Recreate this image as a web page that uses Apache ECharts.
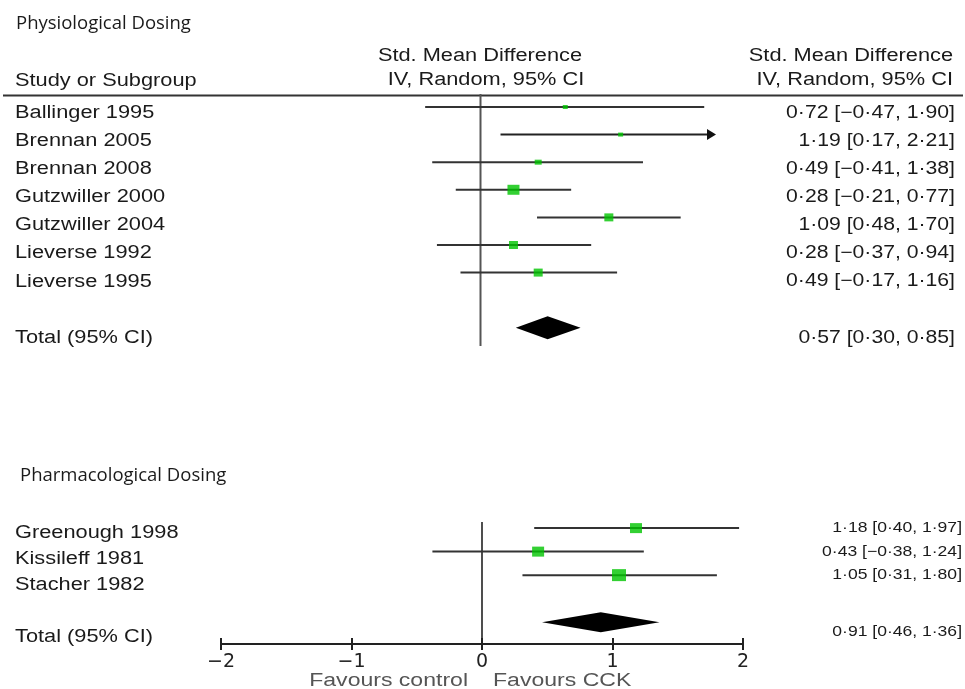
<!DOCTYPE html>
<html><head><meta charset="utf-8">
<script src="https://cdn.jsdelivr.net/npm/echarts@6/dist/echarts.min.js"></script>
<style>html,body{margin:0;padding:0;background:#fff}#c{width:965px;height:689px}</style>
</head><body><div id="c"></div>
<script>
// ---------------- data ----------------
const physStudies = ['Ballinger 1995','Brennan 2005','Brennan 2008','Gutzwiller 2000','Gutzwiller 2004','Lieverse 1992','Lieverse 1995'];
const physSMD   = [0.72, 1.19, 0.49, 0.28, 1.09, 0.28, 0.49];
const physLower = [-0.47, 0.17, -0.41, -0.21, 0.48, -0.37, -0.17];
const physUpper = [1.90, 2.21, 1.38, 0.77, 1.70, 0.94, 1.16];
const physTotal = [0.57, 0.30, 0.85];   // estimate, lower, upper

const pharmStudies = ['Greenough 1998','Kissileff 1981','Stacher 1982'];
const pharmSMD   = [1.18, 0.43, 1.05];
const pharmLower = [0.40, -0.38, 0.31];
const pharmUpper = [1.97, 1.24, 1.80];
const pharmTotal = [0.91, 0.46, 1.36];

const xTicks = [-2, -1, 0, 1, 2];
const totalLabel = 'Total (95% CI)';

// ---------------- styles ----------------
const GREEN = '#00c400';
const physBox  = [[5,4],[5,4],[7,5],[12,10],[9,8],[9,8],[9,8]];
const pharmBox = [[12,10],[12,10],[14,12]];
const ARIAL = 'Liberation Sans';
const SX = 1.21;

function fmt(v){ return v.toFixed(2).replace('.', '\u00b7').replace('-', '\u2212'); }
function ciText(e,l,u){ return fmt(e) + ' [' + fmt(l) + ', ' + fmt(u) + ']'; }

const xMin = xTicks[0], xMax = xTicks[xTicks.length-1];

function ciSeries(idx, lower, upper){
  return {
    type:'custom', xAxisIndex:idx, yAxisIndex:idx, clip:false, z:3,
    encode:{x:[0,1], y:2},
    data: lower.map((l,i)=>[l, upper[i], i]),
    renderItem(params, api){
      const lo = Math.max(api.value(0), xMin), hi = api.value(1), row = api.value(2);
      const p1 = api.coord([lo,row]), p2 = api.coord([Math.min(hi,xMax),row]);
      const ch = [];
      if (hi > xMax) {
        ch.push({type:'line', shape:{x1:p1[0],y1:p1[1],x2:p2[0]-6,y2:p2[1]}, style:{stroke:'#222', lineWidth:2}});
        ch.push({type:'polygon', shape:{points:[[p2[0],p2[1]],[p2[0]-9,p2[1]-5.5],[p2[0]-9,p2[1]+5.5]]}, style:{fill:'#111'}});
      } else {
        ch.push({type:'line', shape:{x1:p1[0],y1:p1[1],x2:p2[0],y2:p2[1]}, style:{stroke:'#333', lineWidth:2}});
      }
      return {type:'group', children:ch};
    }
  };
}
function boxSeries(idx, est, boxes){
  return {
    type:'scatter', xAxisIndex:idx, yAxisIndex:idx, symbol:'rect', z:5,
    data: est.map((v,i)=>[v,i]),
    symbolSize:(val,p)=>boxes[p.dataIndex],
    itemStyle:{color:GREEN}, emphasis:{disabled:true}
  };
}
function diamondSeries(idx, total, row, halfH){
  return {
    type:'custom', xAxisIndex:idx, yAxisIndex:idx, clip:false, z:4,
    encode:{x:[0,1,2], y:3},
    data:[[total[0], total[1], total[2], row]],
    renderItem(params, api){
      const c = api.coord([api.value(0), api.value(3)]);
      const l = api.coord([api.value(1), api.value(3)]);
      const r = api.coord([api.value(2), api.value(3)]);
      return {type:'polygon', shape:{points:[[l[0],c[1]],[c[0],c[1]-halfH],[r[0],c[1]],[c[0],c[1]+halfH]]}, style:{fill:'#000'}};
    }
  };
}
function zeroSeries(idx, y0, y1, w, color){
  return {
    type:'custom', xAxisIndex:idx, yAxisIndex:idx, clip:false, z:2,
    encode:{x:0, y:[1,2]},
    data:[[0, y0, y1]],
    renderItem(params, api){
      const a = api.coord([api.value(0), api.value(1)]), b = api.coord([api.value(0), api.value(2)]);
      return {type:'line', shape:{x1:a[0],y1:a[1],x2:b[0],y2:b[1]}, style:{stroke:color, lineWidth:w}};
    }
  };
}

function txt(x, y, s, o){
  o = o || {};
  return {type:'text', x:x, y:y, scaleX:o.sx || 1, z:10, silent:true,
    style:{text:s, fontFamily:o.font || ARIAL, fontSize:o.size || 18, fill:o.color || '#1a1a1a',
           align:o.align || 'left', verticalAlign:'middle'}};
}

const physTotalRow = physStudies.length + 1;
const pharmTotalRow = pharmStudies.length + 1;

const graphics = [];
// titles
graphics.push(txt(16, 24, 'Physiological Dosing', {font:'Open Sans', size:18.5}));
graphics.push(txt(20, 476, 'Pharmacological Dosing', {font:'Open Sans', size:18.5}));
// header
graphics.push(txt(480, 56, 'Std. Mean Difference', {size:18, sx:SX, align:'center'}));
graphics.push(txt(486, 80, 'IV, Random, 95% CI', {size:18, sx:SX, align:'center'}));
graphics.push(txt(953, 56, 'Std. Mean Difference', {size:18, sx:SX, align:'right'}));
graphics.push(txt(953, 80, 'IV, Random, 95% CI', {size:18, sx:SX, align:'right'}));
graphics.push(txt(15, 81, 'Study or Subgroup', {size:18, sx:SX}));
graphics.push({type:'line', shape:{x1:3, y1:95.5, x2:963, y2:95.5}, style:{stroke:'#333', lineWidth:2}, silent:true});
// physiological labels
physStudies.forEach((s,i)=>{
  const y = 113 + 28.1*i;
  graphics.push(txt(15, y, s, {size:18, sx:SX}));
  graphics.push(txt(955, y, ciText(physSMD[i], physLower[i], physUpper[i]), {size:17.5, sx:SX, align:'right'}));
});
graphics.push(txt(15, 113 + 28.1*physTotalRow, totalLabel, {size:18, sx:SX}));
graphics.push(txt(955, 113 + 28.1*physTotalRow, ciText(physTotal[0], physTotal[1], physTotal[2]), {size:17.5, sx:SX, align:'right'}));
// pharmacological labels
pharmStudies.forEach((s,i)=>{
  graphics.push(txt(15, 533 + 26*i, s, {size:18, sx:SX}));
  graphics.push(txt(962, 528 + 23.5*i, ciText(pharmSMD[i], pharmLower[i], pharmUpper[i]), {size:14.5, sx:SX, align:'right'}));
});
graphics.push(txt(15, 637, totalLabel, {size:18, sx:SX}));
graphics.push(txt(962, 632, ciText(pharmTotal[0], pharmTotal[1], pharmTotal[2]), {size:14.5, sx:SX, align:'right'}));
// favours
graphics.push(txt(468, 681, 'Favours control', {size:18, sx:1.28, align:'right', color:'#555'}));
graphics.push(txt(493, 681, 'Favours CCK', {size:18, sx:1.28, align:'left', color:'#555'}));

const physYMin = -0.47, physYMax = 8.66;
const pharmYMin = -0.26, pharmYMax = 4.93;

const chart = echarts.init(document.getElementById('c'), null, {renderer:'canvas'});
chart.setOption({
  animation:false,
  backgroundColor:'#fff',
  grid:[
    {left:245, width:471, top:94, height:252},
    {left:221, width:522, top:522, height:122}
  ],
  xAxis:[
    {gridIndex:0, type:'value', min:xMin, max:xMax, show:false},
    {gridIndex:1, type:'value', min:xMin, max:xMax, interval:1, position:'bottom',
     axisLine:{show:true, onZero:false, lineStyle:{color:'#222', width:2}},
     axisTick:{show:true, length:6, lineStyle:{color:'#222', width:2}},
     axisLabel:{fontFamily:'DejaVu Sans', fontSize:19, color:'#222', margin:9,
                formatter:v=>String(v).replace('-', '\u2212')},
     splitLine:{show:false}},
    {gridIndex:1, type:'value', min:xMin, max:xMax, interval:1, position:'bottom',
     axisLine:{show:false, onZero:false},
     axisTick:{show:true, inside:true, length:6, lineStyle:{color:'#222', width:2}},
     axisLabel:{show:false}, splitLine:{show:false}}
  ],
  yAxis:[
    {gridIndex:0, type:'value', min:physYMin, max:physYMax, inverse:true, show:false},
    {gridIndex:1, type:'value', min:pharmYMin, max:pharmYMax, inverse:true, show:false}
  ],
  graphic: graphics,
  series:[
    zeroSeries(0, physYMin, physYMax, 2, '#555'),
    ciSeries(0, physLower, physUpper),
    boxSeries(0, physSMD, physBox),
    diamondSeries(0, physTotal, physTotalRow, 11.5),
    zeroSeries(1, pharmYMin, pharmYMax, 1.6, '#222'),
    ciSeries(1, pharmLower, pharmUpper),
    boxSeries(1, pharmSMD, pharmBox),
    diamondSeries(1, pharmTotal, pharmTotalRow, 10)
  ]
});
</script></body></html>
